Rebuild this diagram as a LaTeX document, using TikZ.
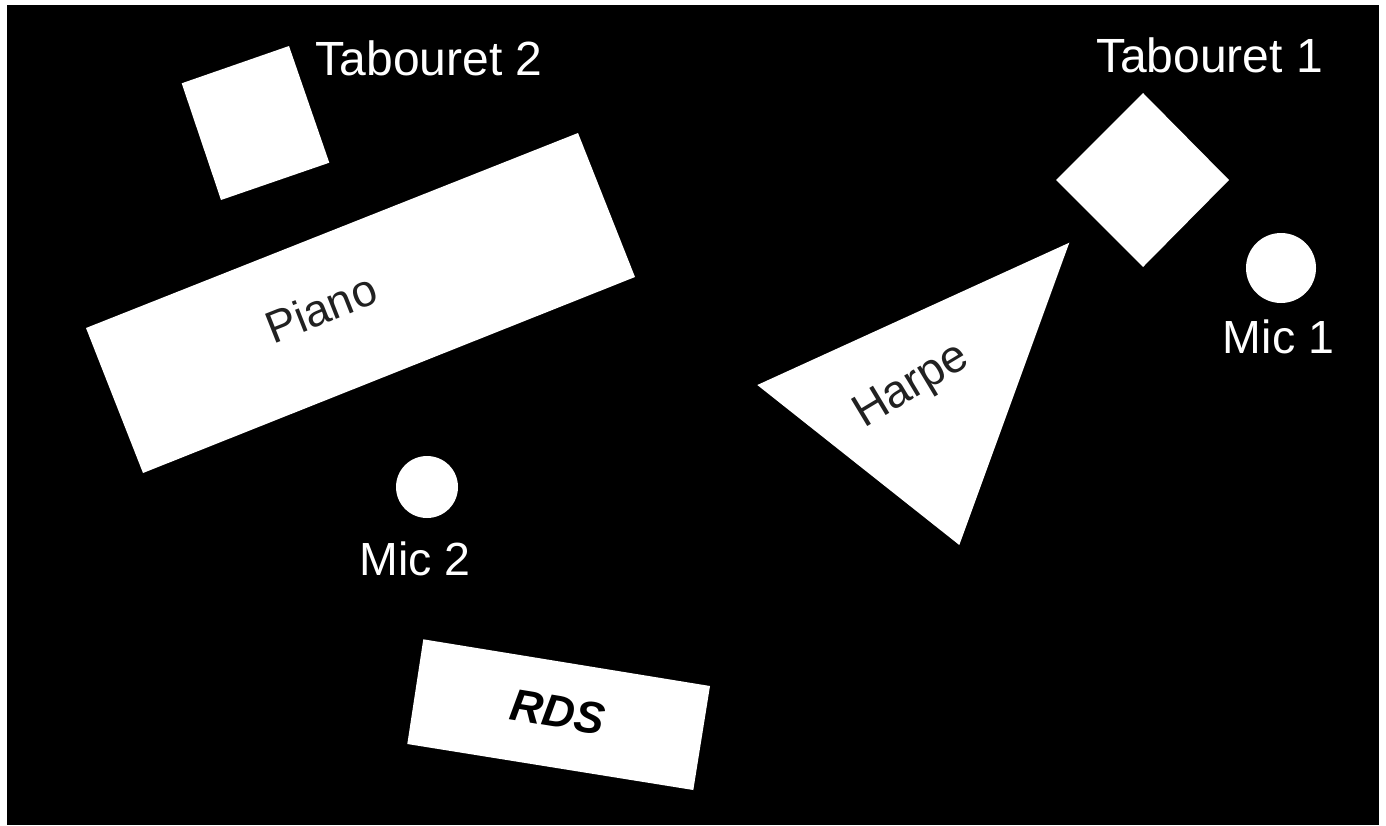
\documentclass[tikz,border=0pt]{standalone}
\usepackage{fontspec}
\setmainfont{Liberation Sans}
\begin{document}
\begin{tikzpicture}[x=1pt,y=-1pt,
	lbl/.style={text=white,inner sep=0pt,font=\fontsize{46.5}{56}\selectfont},
	inlbl/.style={text=black!87,inner sep=0pt,font=\fontsize{45}{54}\selectfont}]
	\useasboundingbox (0,0) rectangle (1386,825);
	\fill[white] (0,0) rectangle (1386,825);
	\fill[black] (7,5) rectangle (1379,825);
	% stage items
	\fill[white] (181.7,83.3)--(289,46)--(329.3,162.7)--(221,200)--cycle;
	\fill[white] (86,328)--(578,133)--(635,277)--(143,473)--cycle;
	\fill[white] (1056,180)--(1143,93)--(1229,180)--(1143,267)--cycle;
	\fill[white] (757.3,385)--(1069.3,242.7)--(959.3,545)--cycle;
	\fill[white] (423.3,639.3)--(710,686)--(693.3,790)--(407.3,744)--cycle;
	\fill[white] (1281,268) circle (35);
	\fill[white] (427,487) circle (31);
	% labels
	\node[lbl,anchor=base,font=\fontsize{48}{58}\selectfont] (tab2) at (429,75) {Tabouret 2};
	\node[lbl,anchor=base,font=\fontsize{48}{58}\selectfont] (tab1) at (1209.5,72.7) {Tabouret 1};
	\node[lbl,anchor=base] (mic1) at (1278.5,353.3) {Mic 1};
	\node[lbl,anchor=base] (mic2) at (415,575) {Mic 2};
	\node[inlbl,rotate=21.6] (piano) at (321,308) {Piano};
	\node[inlbl,rotate=31,font=\fontsize{46}{55}\selectfont] (harpe) at (912,387) {Harpe};
	\node[inlbl,text=black,rotate=-9.3,font=\fontsize{45}{54}\selectfont\bfseries\itshape] (rds) at (558,712) {RDS};
\end{tikzpicture}
\end{document}
